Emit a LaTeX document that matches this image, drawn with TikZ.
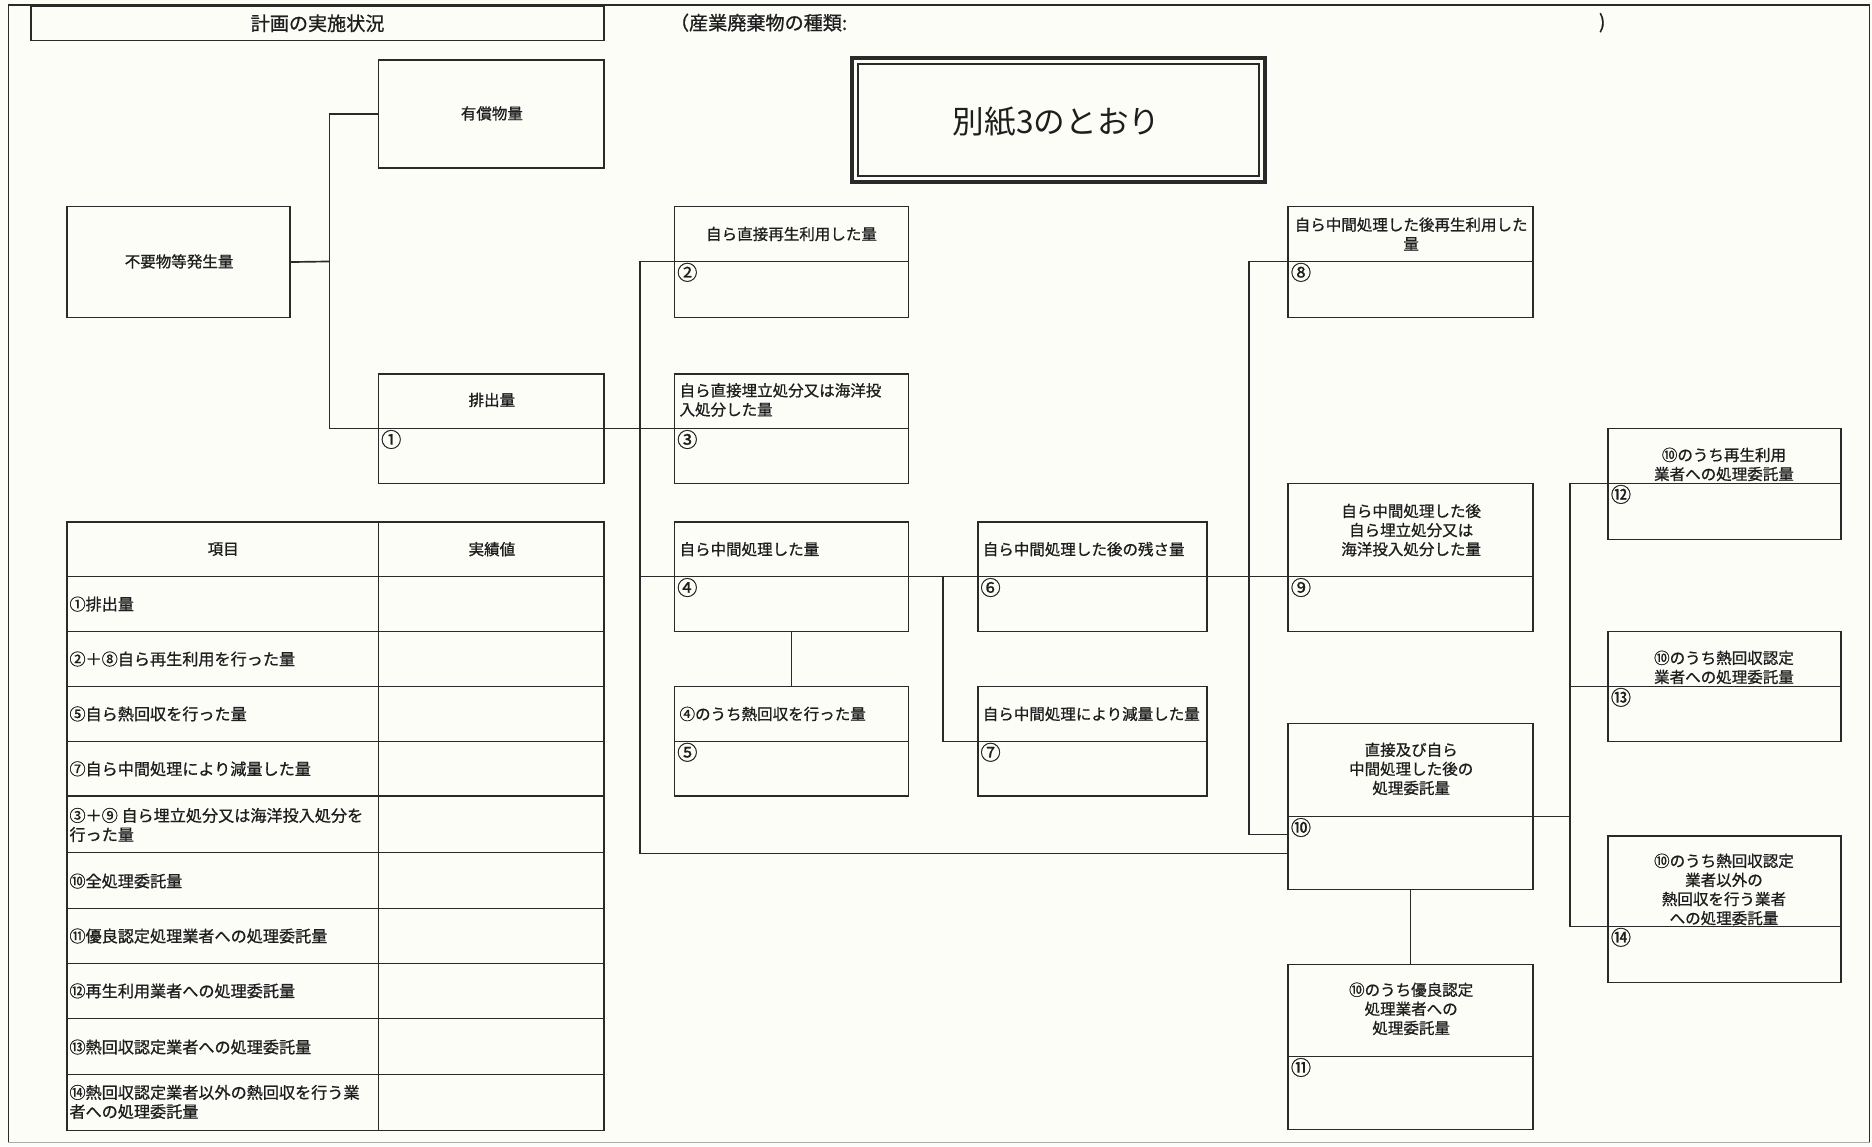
\documentclass[tikz,border=0pt]{standalone}
\usepackage{fontspec}
\setmainfont{Noto Sans CJK JP}[FakeBold=0.9]
\newfontfamily\lightjp{Noto Sans CJK JP}
\definecolor{lc}{HTML}{2A2A2A}
\definecolor{bg}{HTML}{FDFDF8}
\definecolor{tc}{HTML}{1E1E1E}
\newcommand\lbf{\fontsize{13}{16}\selectfont}
\newcommand\tbf{\fontsize{13.5}{16}\selectfont}
\newcommand\nmf{\fontsize{17}{18}\selectfont}
\tikzset{
  ln/.style={line width=1.4pt, draw=lc},
  bx/.style={ln, rectangle, inner sep=0pt, outer sep=0pt, anchor=north west},
  lbl/.style={font=\lbf, text=tc, inner sep=0pt, align=center},
  lbll/.style={lbl, align=left, anchor=west},
  tbl/.style={font=\tbf, text=tc, inner sep=0pt, align=left, anchor=west},
  num/.style={font=\nmf, text=tc, inner sep=0pt, anchor=north west},
}
% name, x1, y1, x2, y2
\newcommand\mkbox[5]{\node[bx, minimum width={(#4-#2)*1pt}, minimum height={(#5-#3)*1pt}] (#1) at (#2,#3) {};}
% name, divider y, number
\newcommand\mkdiv[3]{\draw[ln] (#1.west |- 0,#2) -- (#1.east |- 0,#2);
  \path (#1.west |- 0,#2) ++(2,1) node[num] {#3};}
\begin{document}
\begin{tikzpicture}[x=1pt, y=-1pt]
\fill[bg] (0,0) rectangle (1568,960);
\useasboundingbox (0,0) rectangle (1568,960);
% page frame
\draw[ln] (1566,4) -- (7,4) -- (7,957);
\draw[line width=1.4pt, draw=lc] (1566,4) -- (1566,957);
\draw[line width=0.8pt, draw=lc!40] (7,957) -- (1566,957);

% header
\mkbox{hdr}{26}{5}{506}{34}
\node[font=\fontsize{16}{18}\selectfont, text=tc, inner sep=0pt] (hdrt) at (hdr.center) {計画の実施状況};
\node[font=\fontsize{16}{18}\selectfont, text=tc, inner sep=0pt, anchor=west] (kind) at (561,19) {（産業廃棄物の種類:};
\node[font=\fontsize{16}{18}\selectfont, text=tc, inner sep=0pt] (kindr) at (1342,19) {)};

% 別紙3のとおり double box
\node[draw=lc, line width=3pt, rectangle, inner sep=0pt, anchor=north west, minimum width=346pt, minimum height=104pt] (ref) at (712,47) {};
\node[draw=lc, line width=1.8pt, rectangle, inner sep=0pt, minimum width=336pt, minimum height=94pt] (refin) at (ref.center) {};
\node[font=\lightjp\fontsize{26.5}{30}\selectfont, text=tc, inner sep=0pt] (reft) at (885,102) {別紙3のとおり};

% boxes
\mkbox{yusho}{317}{50}{506}{141}
\node[lbl] at (412,95) {有償物量};
\mkbox{gen}{56}{173}{243}{266}
\node[lbl] at (150,219) {不要物等発生量};
\mkbox{hai}{317}{313}{506}{405}
\node[lbl] at (412,335) {排出量};
\mkdiv{hai}{359}{①}

\mkbox{b2}{565}{173}{761}{266}
\node[lbl] at (663,196) {自ら直接再生利用した量};
\mkdiv{b2}{219}{②}
\mkbox{b3}{565}{313}{761}{405}
\node[lbll] at (569,335) {自ら直接埋立処分又は海洋投\\入処分した量};
\mkdiv{b3}{359}{③}
\mkbox{b4}{565}{437}{761}{529}
\node[lbll] at (569,460) {自ら中間処理した量};
\mkdiv{b4}{483}{④}
\mkbox{b5}{565}{575}{761}{667}
\node[lbll] at (569,598) {④のうち熱回収を行った量};
\mkdiv{b5}{621}{⑤}
\mkbox{b6}{819}{437}{1011}{529}
\node[lbll] at (823,460) {自ら中間処理した後の残さ量};
\mkdiv{b6}{483}{⑥}
\mkbox{b7}{819}{575}{1011}{667}
\node[lbll] at (823,598) {自ら中間処理により減量した量};
\mkdiv{b7}{621}{⑦}
\mkbox{b8}{1079}{173}{1284}{266}
\node[lbl] at (1182,196) {自ら中間処理した後再生利用した\\量};
\mkdiv{b8}{219}{⑧}
\mkbox{b9}{1079}{405}{1284}{529}
\node[lbl] at (1182,444) {自ら中間処理した後\\自ら埋立処分又は\\海洋投入処分した量};
\mkdiv{b9}{483}{⑨}
\mkbox{b10}{1079}{606}{1284}{745}
\node[lbl] at (1182,644) {直接及び自ら\\中間処理した後の\\処理委託量};
\mkdiv{b10}{684}{⑩}
\mkbox{b11}{1079}{808}{1284}{946}
\node[lbl] at (1182,845) {⑩のうち優良認定\\処理業者への\\処理委託量};
\mkdiv{b11}{885}{⑪}
\mkbox{b12}{1347}{359}{1542}{452}
\node[lbl] at (1444,389) {⑩のうち再生利用\\業者への処理委託量};
\mkdiv{b12}{405}{⑫}
\mkbox{b13}{1347}{529}{1542}{621}
\node[lbl] at (1444,559) {⑩のうち熱回収認定\\業者への処理委託量};
\mkdiv{b13}{575}{⑬}
\mkbox{b14}{1347}{700}{1542}{823}
\node[lbl] at (1444,745) {⑩のうち熱回収認定\\業者以外の\\熱回収を行う業者\\への処理委託量};
\mkdiv{b14}{776}{⑭}

% connectors
\draw[ln] (gen.east) -- (276,219);
\draw[ln] (yusho.west) -| (276,359) -- (b3.west |- 0,359);
\draw[ln] (b2.west |- 0,219) -| (536,715) -- (b10.west |- 0,715);
\draw[ln] (536,483) -- (b4.west |- 0,483);
\draw[ln] (b4.east |- 0,483) -- (b6.west |- 0,483);
\draw[ln] (790,483) |- (b7.west |- 0,621);
\draw[ln] (b4.south) -- (b5.north);
\draw[ln] (b6.east |- 0,483) -- (b9.west |- 0,483);
\draw[ln] (b8.west |- 0,219) -| (1046,699) -- (b10.west |- 0,699);
\draw[ln] (b10.east |- 0,684) -| (1315,405) -- (b12.west |- 0,405);
\draw[ln] (1315,684) |- (b14.west |- 0,776);
\draw[ln] (1315,575) -- (b13.west |- 0,575);
\draw[ln] (b10.south) -- (b11.north);

% table
\mkbox{tbl}{56}{437}{506}{947}
\draw[ln] (317,437) -- (317,947);
\foreach \yy in {483,529,575,621,667,714,761,807,853,900} {\draw[ln] (56,\yy) -- (506,\yy);}
\node[lbl] at (187,460) {項目};
\node[lbl] at (412,460) {実績値};
\node[tbl] at (58,506) {①排出量};
\node[tbl] at (58,552) {②＋⑧自ら再生利用を行った量};
\node[tbl] at (58,598) {⑤自ら熱回収を行った量};
\node[tbl] at (58,644) {⑦自ら中間処理により減量した量};
\node[tbl] at (58,691) {③＋⑨ 自ら埋立処分又は海洋投入処分を\\行った量};
\node[tbl] at (58,738) {⑩全処理委託量};
\node[tbl] at (58,784) {⑪優良認定処理業者への処理委託量};
\node[tbl] at (58,830) {⑫再生利用業者への処理委託量};
\node[tbl] at (58,877) {⑬熱回収認定業者への処理委託量};
\node[tbl] at (58,923) {⑭熱回収認定業者以外の熱回収を行う業\\者への処理委託量};
\end{tikzpicture}
\end{document}
